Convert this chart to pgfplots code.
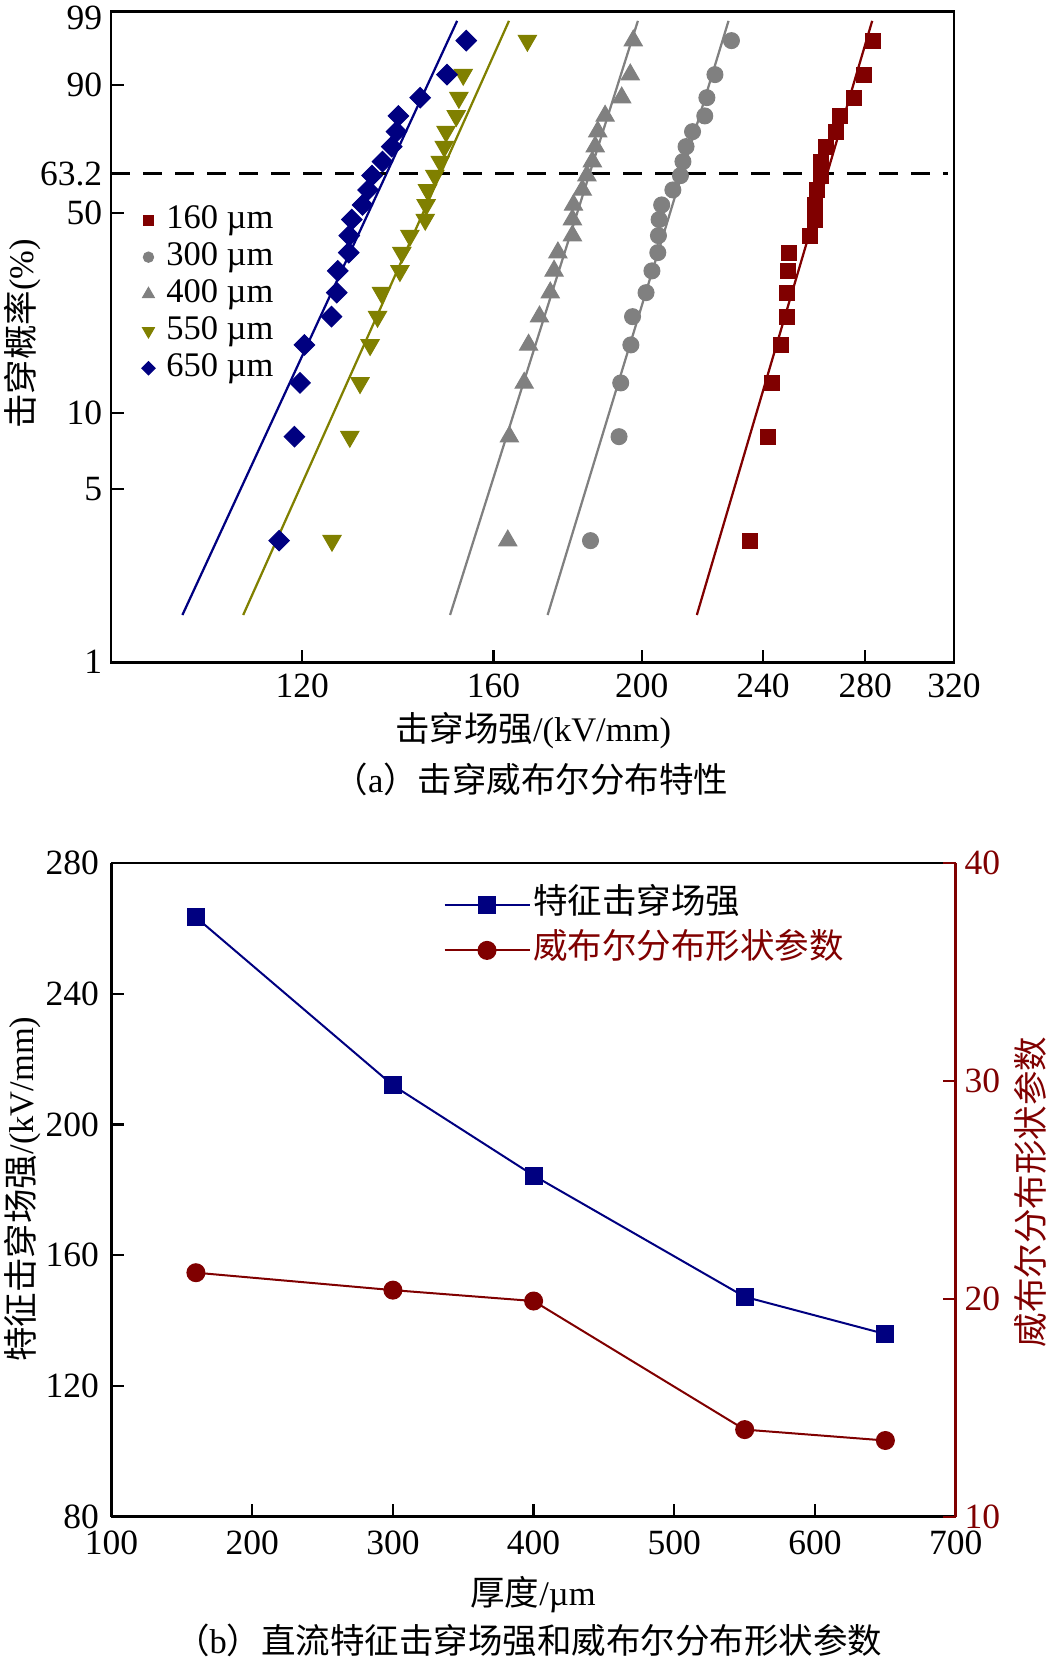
\documentclass[border=0pt]{standalone}
\usepackage{pgfplots}
\pgfplotsset{compat=1.18}
\usepackage{fontspec}
\setmainfont{Liberation Serif}
\newfontfamily\cjk{Noto Sans CJK SC}
\definecolor{dred}{RGB}{128,0,0}
\definecolor{navy}{RGB}{0,0,128}
\definecolor{oliv}{RGB}{128,128,0}
\definecolor{gry}{RGB}{128,128,128}
\newcommand{\fs}{\fontsize{13.8pt}{16pt}\selectfont}
\newcommand{\ft}{\fontsize{14.2pt}{16pt}\selectfont}
\begin{document}
\begin{tikzpicture}
\useasboundingbox (0,0) rectangle (419.2pt,-664.8pt);
% ---------------- panel (a) ----------------
\begin{axis}[
  at={(44.4pt,-264.9pt)}, anchor=south west,
  scale only axis, width=337.2pt, height=260.3pt,
  xmode=log, xmin=90, xmax=320, ymin=-4.60015, ymax=1.52718,
  xtick={120,160,200,240,280,320}, xticklabels={120,160,200,240,280,320},
  ytick={-4.60015,-2.97020,-2.25037,-0.366513,0,0.834032,1.52718},
  yticklabels={1,5,10,50,63.2,90,\raisebox{-2.2pt}[9.6pt][0pt]{99}},
  xminorticks=false, yminorticks=false,
  tick align=inside, xtick pos=bottom, ytick pos=left,
  major tick length=5pt,
  tick style={line width=0.9pt, black},
  axis line style={line width=1.1pt},
  every tick label/.append style={font=\ft},
  xticklabel style={yshift=-1pt},
  /pgf/number format/assume math mode=true,
  legend cell align=left,
  legend style={draw=none, fill=none, at={(axis description cs:0.0359,0.708)}, anchor=north west,
    inner sep=0pt, row sep=0.3pt, column sep=3.5pt,
    nodes={inner sep=1pt, text height=9.5pt, text depth=3pt, font=\fs}},
  legend image code/.code={\draw[scale=0.65] plot coordinates {(0pt,0pt)};},
]
\addplot[only marks, dred, mark=square*, mark size=3pt] coordinates {(235.3,-3.455)(241.9,-2.476)(243.3,-1.970)(246.5,-1.612)(248.7,-1.346)(248.7,-1.120)(249.3,-0.915)(249.6,-0.743)(257.5,-0.583)(259.5,-0.432)(259.7,-0.294)(260.2,-0.153)(261.8,-0.018)(261.8,0.114)(263.8,0.255)(268.1,0.396)(269.4,0.544)(275.4,0.716)(279.3,0.933)(283.1,1.253)};
\addlegendentry{160 µm}
\addplot[only marks, gry, mark=*, mark size=3.2pt] coordinates {(185.2,-3.455)(193.3,-2.476)(193.8,-1.970)(196.8,-1.612)(197.3,-1.346)(201.3,-1.120)(203.1,-0.915)(204.9,-0.743)(205.1,-0.583)(205.3,-0.432)(206.1,-0.294)(209.6,-0.153)(212.0,-0.018)(212.8,0.114)(213.8,0.255)(215.9,0.396)(219.9,0.544)(220.6,0.716)(223.3,0.933)(228.9,1.253)};
\addlegendentry{300 µm}
\addplot[only marks, gry, mark=triangle*, mark size=4.2pt] coordinates {(163.5,-3.455)(163.9,-2.476)(167.6,-1.970)(168.7,-1.612)(171.5,-1.346)(174.3,-1.120)(175.3,-0.915)(176.3,-0.743)(180.2,-0.583)(180.2,-0.432)(180.5,-0.294)(182.9,-0.153)(184.2,-0.018)(185.7,0.114)(186.5,0.255)(187.2,0.396)(189.3,0.544)(194.1,0.716)(196.6,0.933)(197.5,1.253)};
\addlegendentry{400 µm}
\addplot[only marks, oliv, mark=triangle*, mark size=4.2pt, every mark/.append style={rotate=180}] coordinates {(125.5,-3.455)(128.9,-2.476)(130.9,-1.970)(132.9,-1.612)(134.4,-1.346)(135.2,-1.120)(139.0,-0.915)(139.4,-0.743)(141.1,-0.583)(144.4,-0.432)(144.6,-0.294)(144.9,-0.153)(146.5,-0.018)(147.7,0.114)(148.6,0.255)(149.0,0.396)(151.3,0.544)(151.9,0.716)(152.9,0.933)(168.4,1.253)};
\addlegendentry{550 µm}
\addplot[only marks, navy, mark=square*, mark size=2.9pt, every mark/.append style={rotate=45}] coordinates {(115.9,-3.455)(118.6,-2.476)(119.6,-1.970)(120.4,-1.612)(125.4,-1.346)(126.4,-1.120)(126.6,-0.915)(128.7,-0.743)(128.8,-0.583)(129.3,-0.432)(131.4,-0.294)(132.5,-0.153)(133.3,-0.018)(135.4,0.114)(137.3,0.255)(138.3,0.396)(138.7,0.544)(143.3,0.716)(149.2,0.933)(153.6,1.253)};
\addlegendentry{650 µm}
% fitted lines
\addplot[dred, line width=0.9pt, forget plot] coordinates {(217.3,-4.155) (282.9,1.439)};
\addplot[gry, line width=0.9pt, forget plot] coordinates {(173.6,-4.155) (227.9,1.439)};
\addplot[gry, line width=0.9pt, forget plot] coordinates {(149.9,-4.155) (198.9,1.439)};
\addplot[oliv, line width=0.9pt, forget plot] coordinates {(109.8,-4.155) (163.8,1.439)};
\addplot[navy, line width=0.9pt, forget plot] coordinates {(100.2,-4.155) (151.5,1.439)};
\addplot[black, line width=1.1pt, dash pattern=on 7.6pt off 5.2pt, forget plot] coordinates {(90,0) (317,0)};
\end{axis}
% ---------------- panel (b) ----------------
\begin{axis}[
  at={(44.6pt,-606.7pt)}, anchor=south west,
  scale only axis, width=337.7pt, height=261.5pt,
  xmin=100, xmax=700, ymin=80, ymax=280,
  xtick={100,200,300,400,500,600,700}, ytick={80,120,160,200,240,280},
  axis y line*=left,
  tick align=inside, xtick pos=bottom,
  major tick length=5pt,
  tick style={line width=0.9pt, black},
  axis line style={line width=1.1pt},
  every tick label/.append style={font=\ft},
  xticklabel style={yshift=-2.2pt},
  yticklabel style={xshift=-1.5pt},
  /pgf/number format/assume math mode=true,
]
\addplot[navy, line width=0.8pt, mark=square*, mark size=3.2pt] coordinates {(160,263.4) (300,212.0) (400,184.4) (550,147.3) (650,135.9)};
\end{axis}
\begin{axis}[
  at={(44.6pt,-606.7pt)}, anchor=south west,
  scale only axis, width=337.7pt, height=261.5pt,
  xmin=100, xmax=700, ymin=10, ymax=40,
  ytick={10,20,30,40},
  axis y line*=right, axis x line=none,
  tick align=inside,
  major tick length=5pt,
  tick style={line width=0.9pt, dred},
  y axis line style={line width=1.1pt, dred},
  yticklabel style={text=dred},
  every tick label/.append style={font=\ft},
  /pgf/number format/assume math mode=true,
  legend cell align=left,
  legend style={draw=none, fill=none, at={(axis description cs:0.3927,0.9675)}, anchor=north west,
    inner sep=0pt, row sep=1.5pt, column sep=-1pt,
    nodes={inner sep=2pt, text height=9.5pt, text depth=3pt, font=\fs}},
  legend image code/.code={\draw[mark repeat=2,mark phase=2] plot coordinates {(0pt,0pt) (17pt,0pt) (34pt,0pt)};},
]
\addlegendimage{navy, line width=0.8pt, mark=square*, mark size=3.2pt}
\addlegendentry{{\cjk 特征击穿场强}}
\addplot[dred, line width=0.8pt, mark=*, mark size=3.4pt] coordinates {(160,21.2) (300,20.4) (400,19.9) (550,14.0) (650,13.5)};
\addlegendentry{\textcolor{dred}{\cjk 威布尔分布形状参数}}
\end{axis}
% ---------------- labels ----------------
\node[rotate=90, font=\fs] at (9.2pt,-133.6pt) {{\cjk 击穿概率}(\%)};
\node[font=\fs] at (213.2pt,-292.4pt) {{\cjk 击穿场强}/(kV/mm)};
\node[font=\fs] at (212.4pt,-311.6pt) {{\cjk （}a{\cjk ）击穿威布尔分布特性}};
\node[rotate=90, font=\fs] at (9.2pt,-475.6pt) {{\cjk 特征击穿场强}/(kV/mm)};
\node[rotate=90, font=\fs, text=dred] at (412.2pt,-476.8pt) {{\cjk 威布尔分布形状参数}};
\node[font=\fs] at (213.2pt,-638pt) {{\cjk 厚度}/µm};
\node[font=\fs] at (211.5pt,-656pt) {{\cjk （}b{\cjk ）直流特征击穿场强和威布尔分布形状参数}};
\end{tikzpicture}
\end{document}
